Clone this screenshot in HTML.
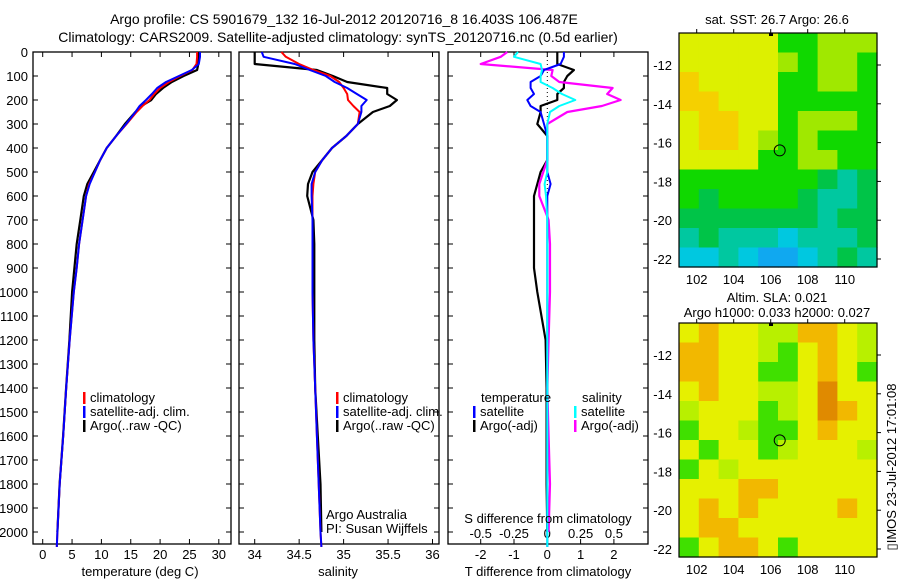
<!DOCTYPE html>
<html><head><meta charset="utf-8"><style>
html,body{margin:0;padding:0;background:#fff;}
svg{display:block;font-family:"Liberation Sans",sans-serif;}
text{font-size:13px;fill:#000;}
</style></head><body>
<svg id="fig" width="900" height="580" xmlns="http://www.w3.org/2000/svg">
<text x="344" y="24" text-anchor="middle" style="font-size:14px">Argo profile: CS 5901679_132 16-Jul-2012 20120716_8 16.403S 106.487E</text>
<text x="338" y="42" text-anchor="middle" style="font-size:14px">Climatology: CARS2009. Satellite-adjusted climatology: synTS_20120716.nc (0.5d earlier)</text>
<g id="plots"></g>
</svg>
<script>
const depths=[0,20,50,75,100,125,150,175,200,225,250,300,350,400,450,500,550,600,700,800,900,1000,1200,1400,1600,1800,2000,2062];
const tempClim=[26.3,26.3,26.2,25.5,23.4,21.5,20,19,18.2,17,16,14.3,12.5,10.9,9.8,8.9,7.9,7.4,6.8,6.2,5.8,5.3,4.6,4.0,3.5,2.9,2.5,2.4];
const tempSat=[26.8,26.8,26.6,25.4,23.2,21,19.5,18.6,17.6,16.5,15.8,14.2,12.5,10.9,9.8,8.9,8.0,7.4,6.8,6.2,5.8,5.3,4.6,4.0,3.5,2.9,2.5,2.4];
const tempArgo=[26.6,26.6,26.5,26.3,24,22,20.5,19.3,18.5,16.8,15.8,14,12.5,10.9,9.8,8.7,7.6,7.0,6.4,5.8,5.4,5.0,4.55,3.98,3.48,2.88,2.5,null];
const salClim=[34.3,34.35,34.5,34.66,34.85,34.95,35.0,35.04,35.05,35.11,35.18,35.16,35.03,34.87,34.76,34.68,34.66,34.65,34.65,34.65,34.65,34.65,34.66,34.68,34.7,34.72,34.74,34.75];
const salSat=[34.08,34.1,34.45,34.62,34.8,34.9,35.04,35.15,35.26,35.2,35.2,35.16,35.03,34.87,34.76,34.68,34.64,34.64,34.65,34.65,34.65,34.65,34.66,34.68,34.7,34.72,34.74,34.75];
const salArgo=[34.0,34.0,34.0,34.7,34.88,35.04,35.49,35.49,35.6,35.52,35.33,35.16,35.03,34.87,34.76,34.65,34.6,34.59,34.66,34.67,34.67,34.67,34.67,34.68,34.71,34.74,34.75,null];
const depthTicks=[0,100,200,300,400,500,600,700,800,900,1000,1100,1200,1300,1400,1500,1600,1700,1800,1900,2000];
const tempTicks=[0,5,10,15,20,25,30];
const salTicks=[34,34.5,35,35.5,36];
const tdTicks=[-2,-1,0,1,2];
const sdTicks=[-0.5,-0.25,0,0.25,0.5];
const lonTicks=[102,104,106,108,110];
const latTicks=[-12,-14,-16,-18,-20,-22];
const argoLon=106.487, argoLat=-16.403;
const sstGrid=["YYYYYGGLLL","YYYYYLGLLG","OYYYYGGLLG","OOYYYGGGGG","YOOYYGLLLG","YOOYLGLGGG","YYYYGGLLGG","GGGGGGGDTD","GDGGGGDTTD","DDDDDDDTDD","TDTTTCTTTD","CCTCBBCTDT"];
const slaGrid=["YOYYLLOOYL","OOYYLGYOYL","OOYYGGYOYG","YOYYLLYRYY","LYYYGLYROY","GYYLGGYOYY","YGYYGLYYYL","GYLYYYYYYY","YYYOOYYYYY","YOYOYYYYOY","YOOYYYYYYY","GYOOYGYYYY"];

const NS="http://www.w3.org/2000/svg";
const root=document.getElementById('plots');
function el(tag,attrs,parent,txt){const e=document.createElementNS(NS,tag);for(const k in attrs)e.setAttribute(k,attrs[k]);if(txt!==undefined)e.textContent=txt;(parent||root).appendChild(e);return e;}
const top0=52,bot=544;
const yD=d=>top0+0.24*d;
const xT=t=>42.7+5.87*t;
const xS=s=>254.7+88.9*(s-34);
const xTD=v=>547.3+33.3*v;
const xSD=v=>547.3+133.2*v;

function frame(x0,x1,name){
  const r=el('rect',{x:x0,y:top0,width:x1-x0,height:bot-top0,fill:'none',stroke:'#000','stroke-width':1.3});
  
  
}
function line(xs,xf,color,name,w){
  let d='';let pen=false;
  for(let i=0;i<depths.length;i++){const v=xs[i];if(v===null||v===undefined){pen=false;continue;}
    d+=(pen?'L':'M')+xf(v).toFixed(1)+','+yD(depths[i]).toFixed(1);pen=true;}
  const p=el('path',{d:d,fill:'none',stroke:color,'stroke-width':w||2,'stroke-linejoin':'round'});
  
  
}
function xticks(ticks,xf,labelY,fmt){
  ticks.forEach(t=>{const x=xf(t);
    el('line',{x1:x,x2:x,y1:bot,y2:bot-5,stroke:'#000'});
    el('line',{x1:x,x2:x,y1:top0,y2:top0+5,stroke:'#000'});
    const tx=el('text',{x:x,y:labelY,'text-anchor':'middle'},root,fmt?fmt(t):String(t));
    
    
  });
}
function legend(x,y,color,label){
  el('rect',{x:x,y:y-10,width:2.5,height:12,fill:color});
  const t=el('text',{x:x+7,y:y},root,label);
  
  
}

// Panel 1: temperature
frame(33,231,'temperature-panel');
depthTicks.forEach(d=>{const y=yD(d);
  el('line',{x1:33,x2:38,y1:y,y2:y,stroke:'#000'});
  el('line',{x1:226,x2:231,y1:y,y2:y,stroke:'#000'});
  const t=el('text',{x:28,y:y+5,'text-anchor':'end'},root,String(d));
  
  
});
xticks(tempTicks,xT,559);
line(tempArgo,xT,'#000','temp-argo-line',2.2);
line(tempClim,xT,'#f00','temp-climatology-line',2);
line(tempSat,xT,'#00f','temp-satellite-line',2);
legend(83,402,'#f00','climatology');
legend(83,416,'#00f','satellite-adj. clim.');
legend(83,430,'#000','Argo(..raw -QC)');
let t1=el('text',{x:140,y:576,'text-anchor':'middle'},root,'temperature (deg C)');



// Panel 2: salinity
frame(239,439,'salinity-panel');
depthTicks.forEach(d=>{const y=yD(d);
  el('line',{x1:239,x2:244,y1:y,y2:y,stroke:'#000'});
  el('line',{x1:434,x2:439,y1:y,y2:y,stroke:'#000'});});
xticks(salTicks,xS,559);
line(salArgo,xS,'#000','sal-argo-line',2.2);
line(salClim,xS,'#f00','sal-climatology-line',2);
line(salSat,xS,'#00f','sal-satellite-line',2);
legend(336,402,'#f00','climatology');
legend(336,416,'#00f','satellite-adj. clim.');
legend(336,430,'#000','Argo(..raw -QC)');
let t2=el('text',{x:338,y:576,'text-anchor':'middle'},root,'salinity');


let a1=el('text',{x:326,y:519},root,'Argo Australia');


let a2=el('text',{x:326,y:533},root,'PI: Susan Wijffels');



// Panel 3: differences
frame(448,648,'difference-panel');
depthTicks.forEach(d=>{const y=yD(d);
  el('line',{x1:448,x2:453,y1:y,y2:y,stroke:'#000'});
  el('line',{x1:643,x2:648,y1:y,y2:y,stroke:'#000'});});
el('line',{x1:xTD(0),x2:xTD(0),y1:top0,y2:bot,stroke:'#000','stroke-dasharray':'1,3'});
xticks(tdTicks,xTD,559);
sdTicks.forEach(s=>{const t=el('text',{x:xSD(s),y:538,'text-anchor':'middle'},root,String(s));
  
  });
const tdSat=depths.map((d,i)=>tempSat[i]-tempClim[i]);
const tdArgo=depths.map((d,i)=>tempArgo[i]===null?null:tempArgo[i]-tempClim[i]);
const sdSat=depths.map((d,i)=>salSat[i]-salClim[i]);
const sdArgo=depths.map((d,i)=>salArgo[i]===null?null:salArgo[i]-salClim[i]);
line(tdArgo,xTD,'#000','tdiff-argo-line',2.2);
line(sdArgo,xSD,'#f0f','sdiff-argo-line',2.2);
line(tdSat,xTD,'#00f','tdiff-satellite-line',2);
line(sdSat,xSD,'#0ff','sdiff-satellite-line',2);
let lt=el('text',{x:481,y:402},root,'temperature');


let ls=el('text',{x:582,y:402},root,'salinity');


legend(473,416,'#00f','satellite');
legend(473,430,'#000','Argo(-adj)');
legend(574,416,'#0ff','satellite');
legend(574,430,'#f0f','Argo(-adj)');
let sd=el('text',{x:548,y:523,'text-anchor':'middle'},root,'S difference from climatology');


let td=el('text',{x:548,y:576,'text-anchor':'middle'},root,'T difference from climatology');



// Maps
const sstCol={Y:'#ddf000',O:'#f5d000',L:'#a0e800',G:'#10d800',D:'#00c448',T:'#00c8a0',C:'#00c8e0',B:'#10a8f0'};
const slaCol={Y:'#e6f000',O:'#f2b800',R:'#e08a00',L:'#b8f000',G:'#40e000'};
function drawMap(y0,grid,cols,name,labelY){
  const x0=679,w=198,h=234;
  const g=el('g',{});
  
  
  const cw=w/grid[0].length,ch=h/grid.length;
  grid.forEach((row,r)=>{for(let c=0;c<row.length;c++){
    el('rect',{x:(x0+c*cw).toFixed(1),y:(y0+r*ch).toFixed(1),width:(cw+0.6).toFixed(1),height:(ch+0.6).toFixed(1),fill:cols[row[c]]},g);}});
  el('rect',{x:x0,y:y0,width:w,height:h,fill:'none',stroke:'#000','stroke-width':1.2},g);
  const latY=lat=>y0+32+19.4*(-12-lat);
  lonTicks.forEach(l=>{const x=x0+17.7+18.5*(l-102);
    el('line',{x1:x,x2:x,y1:y0,y2:y0-4,stroke:'#000'});
    const t=el('text',{x:x,y:labelY,'text-anchor':'middle'},root,String(l));
    
    });
  latTicks.forEach(l=>{const y=latY(l);
    el('line',{x1:x0+w,x2:x0+w+4,y1:y,y2:y,stroke:'#000'});
    const t=el('text',{x:672,y:y+5,'text-anchor':'end'},root,String(l));
    
    });
  const c=el('circle',{cx:x0+17.7+18.5*(argoLon-102),cy:latY(argoLat),r:5.5,fill:'none',stroke:'#000','stroke-width':1});
  
  
  el('rect',{x:x0+90,y:y0,width:4,height:3,fill:'#000'});
}
drawMap(33,sstGrid,sstCol,'sst-map',284);
drawMap(323,slaGrid,slaCol,'sla-map',574);
let m1=el('text',{x:777,y:24,'text-anchor':'middle'},root,'sat. SST: 26.7 Argo: 26.6');


let m2=el('text',{x:777,y:302,'text-anchor':'middle'},root,'Altim. SLA: 0.021');


let m3=el('text',{x:777,y:317,'text-anchor':'middle'},root,'Argo h1000: 0.033 h2000: 0.027');


let im=el('text',{x:0,y:0,'text-anchor':'middle',transform:'translate(896,467) rotate(-90)'},root,'▯IMOS 23-Jul-2012 17:01:08');


</script>
</body></html>
